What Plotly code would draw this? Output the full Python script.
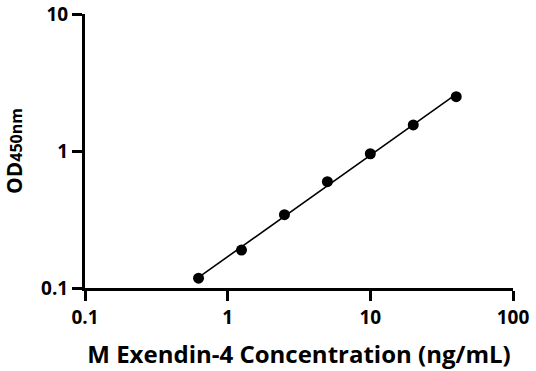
import numpy as np
import plotly.graph_objects as go

conc = [0.625, 1.25, 2.5, 5, 10, 20, 40]
od450 = [0.118, 0.189, 0.343, 0.597, 0.955, 1.55, 2.49]
tick_vals = [0.1, 1, 10, 100]
x_tick_labels = ["0.1", "1", "10", "100"]
y_tick_vals = [0.1, 1, 10]
y_tick_labels = ["0.1", "1", "10"]

# straight-line fit in log-log space
lx = np.log10(conc)
ly = np.log10(od450)
slope, icpt = np.polyfit(lx, ly, 1)
fit_x = np.logspace(lx.min(), lx.max(), 50)
fit_y = 10 ** (icpt + slope * np.log10(fit_x))

FONT = "Open Sans"

fig = go.Figure()
fig.add_trace(go.Scatter(x=fit_x, y=fit_y, mode="lines",
                         line=dict(color="black", width=1.6), hoverinfo="skip"))
fig.add_trace(go.Scatter(x=conc, y=od450, mode="markers",
                         marker=dict(color="black", size=11)))

axis_common = dict(
    type="log", showgrid=False, zeroline=False, showline=True, automargin=False,
    linecolor="black", linewidth=3, ticks="outside", ticklen=10,
    tickwidth=2.5, tickcolor="black",
    tickfont=dict(family=FONT, size=19, color="black", weight="bold"),
)

fig.update_layout(
    width=536, height=371,
    margin=dict(l=85, r=23, t=14, b=83),
    paper_bgcolor="white", plot_bgcolor="white",
    showlegend=False,
    xaxis=dict(range=[-1, 2], tickvals=tick_vals, ticktext=x_tick_labels,
               title=dict(text="M Exendin-4 Concentration (ng/mL)", standoff=18,
                          font=dict(family=FONT, size=24, color="black", weight="bold")),
               **axis_common),
    yaxis=dict(range=[-1, 1], tickvals=y_tick_vals, ticktext=y_tick_labels,
               title=dict(text="OD<span style='font-size:16px'>450nm</span>", standoff=23,
                          font=dict(family=FONT, size=21, color="black", weight="bold")),
               **axis_common),
)

fig.write_html("out.html", config={"displayModeBar": False},
               post_script="document.body.style.margin='0px';document.body.style.padding='0px';")
